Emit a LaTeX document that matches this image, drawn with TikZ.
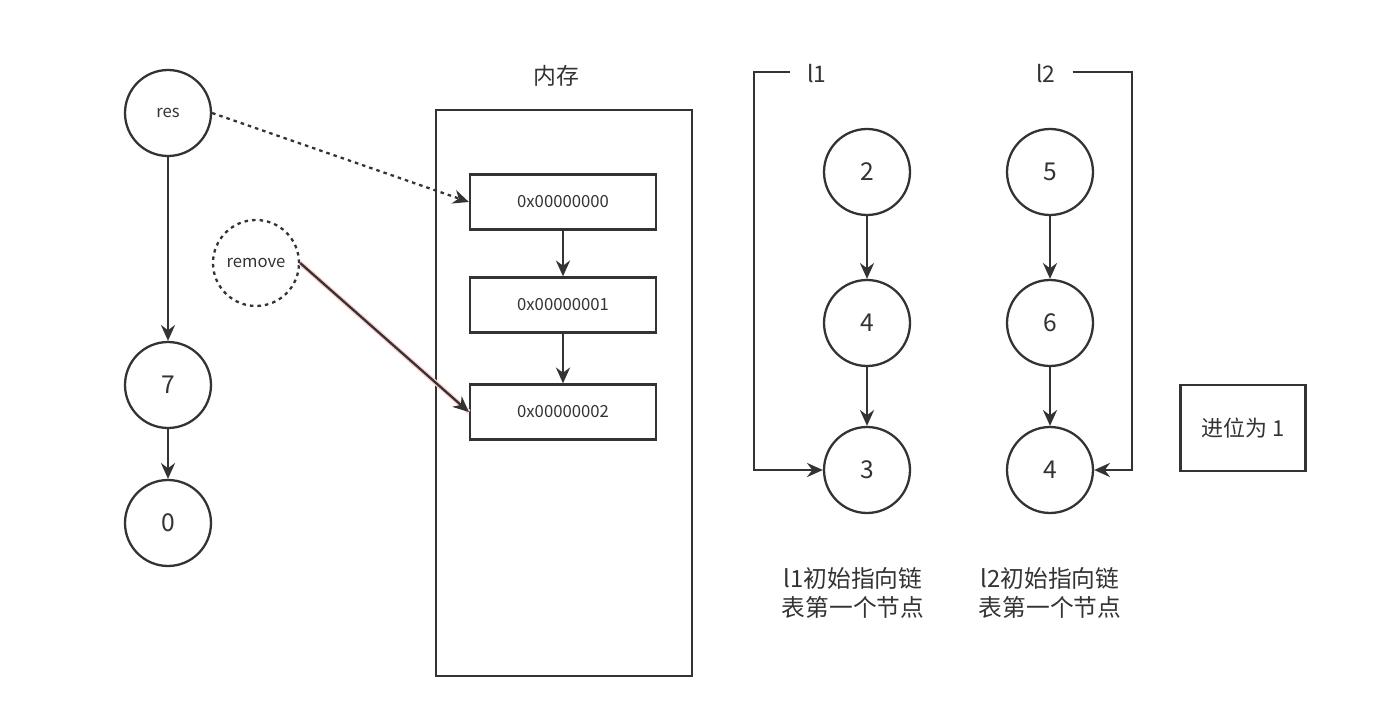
\documentclass[tikz,border=0pt]{standalone}
\usepackage{fontspec}
\setmainfont{Noto Sans CJK SC}
\usetikzlibrary{arrows.meta}
\definecolor{tinta}{HTML}{333333}

\begin{document}
\begin{tikzpicture}[x=0.02cm, y=-0.02cm, line width=1.3pt, draw=tinta, text=tinta,
    >={Stealth[length=9pt,width=8pt]},
    nodo/.style={circle, draw=tinta, minimum size=1.72cm, inner sep=0pt, font=\fontsize{14}{16}\selectfont},
    nodochico/.style={nodo, font=\fontsize{9.5}{11}\selectfont},
    celda/.style={rectangle, draw=tinta, minimum width=3.72cm, minimum height=1.1cm, font=\fontsize{9.5}{11}\selectfont},
    punteado/.style={dash pattern=on 2pt off 2.3pt},
    titulo/.style={font=\fontsize{13}{16}\selectfont, inner xsep=9pt}]
    \useasboundingbox (0,0) rectangle (1396,719);

    % Lista res
    \node[nodochico] (res) at (168,113) {res};
    \node[nodo] (n7) at (168,385) {7};
    \node[nodo] (n0) at (168,523) {0};
    \draw[->] (res) -- (n7);
    \draw[->] (n7) -- (n0);
    \node[nodochico, punteado] (rm) at (256,263) {remove};

    % Memoria
    \node[draw=tinta, minimum width=5.12cm, minimum height=11.32cm] (memoria) at (564,393) {};
    \node[titulo] (memlbl) at (556,76) {内存};
    \node[celda] (m0) at (563,202) {0x00000000};
    \node[celda] (m1) at (563,305) {0x00000001};
    \node[celda] (m2) at (563,412) {0x00000002};
    \draw[->] (m0) -- (m1);
    \draw[->] (m1) -- (m2);
    \draw[->, punteado] (res.east) -- (m0.west);
    \draw[->, preaction={draw=red!18, line width=2.8pt, -}] (rm.east) -- (m2.west);

    % Lista l1
    \node[nodo] (a2) at (867,172) {2};
    \node[nodo] (a4) at (867,323) {4};
    \node[nodo] (a3) at (867,470) {3};
    \draw[->] (a2) -- (a4);
    \draw[->] (a4) -- (a3);
    \node[titulo] (l1) at (817,74) {l1};
    \coordinate (l1esq) at (754,72);
    \draw[->] (l1.west |- l1esq) -- (l1esq) |- (a3.west);

    % Lista l2
    \node[nodo] (b5) at (1050,172) {5};
    \node[nodo] (b6) at (1050,323) {6};
    \node[nodo] (b4) at (1050,470) {4};
    \draw[->] (b5) -- (b6);
    \draw[->] (b6) -- (b4);
    \node[titulo] (l2) at (1046,74) {l2};
    \coordinate (l2esq) at (1132,72);
    \draw[->] (l2.east |- l2esq) -- (l2esq) |- (b4.east);

    % Notas
    \node[font=\fontsize{13.5}{17}\selectfont, align=center] (nota1) at (853,593) {l1初始指向链\\表第一个节点};
    \node[font=\fontsize{13.5}{17}\selectfont, align=center] (nota2) at (1050,593) {l2初始指向链\\表第一个节点};
    \node[draw=tinta, minimum width=2.5cm, minimum height=1.72cm, font=\fontsize{12.5}{15}\selectfont] (carry) at (1243,428) {进位为 1};
\end{tikzpicture}
\end{document}
